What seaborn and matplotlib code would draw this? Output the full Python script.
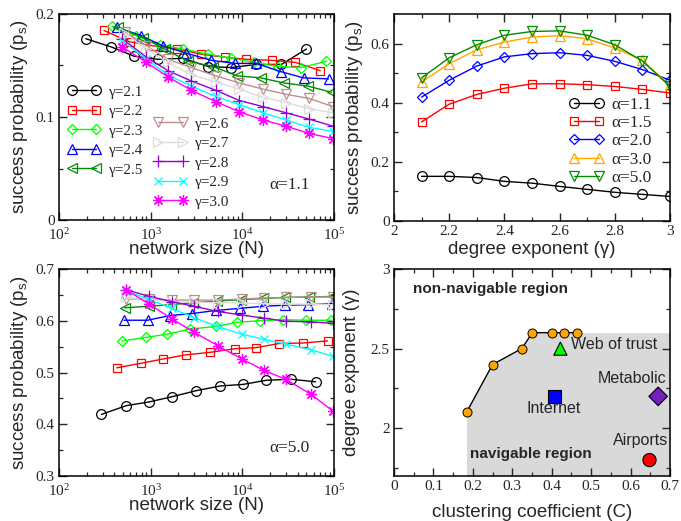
import numpy as np
import pandas as pd
import matplotlib
matplotlib.use("Agg")
import matplotlib.pyplot as plt
import seaborn as sns
from matplotlib.ticker import FixedLocator, FuncFormatter, LogLocator, NullFormatter

# ---------------- data ----------------
gamma_labels = ["γ=2.1", "γ=2.2", "γ=2.3", "γ=2.4", "γ=2.5",
                "γ=2.6", "γ=2.7", "γ=2.8", "γ=2.9", "γ=3.0"]

# top-left: alpha = 1.1
N_a11 = {
    "2.1": [196, 372, 660, 1200, 2240, 4270, 7600, 14100, 26700, 50000],
    "2.2": [309, 589, 1072, 1950, 3550, 6460, 11000, 20900, 38000, 70800],
    "2.3": [382, 692, 1250, 2240, 4240, 7580, 13500, 24400, 43600, 82600],
    "2.4": [429, 790, 1360, 2450, 4580, 8420, 14200, 26300, 46600, 87200],
    "2.5": [440, 830, 1420, 2560, 4800, 8700, 15800, 28700, 52000, 94000],
    "2.6": [520, 900, 1540, 2770, 5110, 9300, 16900, 30300, 53500, 98000],
    "2.7": [510, 900, 1540, 2770, 5110, 9300, 16900, 30300, 53500, 98000],
    "2.8": [490, 900, 1540, 2770, 5110, 9300, 16900, 30300, 53500, 98000],
    "2.9": [490, 900, 1540, 2770, 5110, 9300, 16900, 30300, 53500, 98000],
    "3.0": [490, 900, 1540, 2770, 5110, 9300, 16900, 30300, 53500, 98000],
}
ps_a11 = {
    "2.1": [0.176, 0.168, 0.159, 0.156, 0.157, 0.149, 0.148, 0.151, 0.151, 0.166],
    "2.2": [0.184, 0.173, 0.169, 0.166, 0.161, 0.158, 0.156, 0.155, 0.153, 0.145],
    "2.3": [0.188, 0.179, 0.170, 0.166, 0.161, 0.157, 0.153, 0.149, 0.148, 0.154],
    "2.4": [0.187, 0.179, 0.169, 0.162, 0.155, 0.152, 0.152, 0.144, 0.138, 0.137],
    "2.5": [0.187, 0.177, 0.166, 0.154, 0.149, 0.140, 0.138, 0.133, 0.130, 0.124],
    "2.6": [0.183, 0.169, 0.156, 0.148, 0.140, 0.133, 0.127, 0.122, 0.118, 0.110],
    "2.7": [0.182, 0.166, 0.153, 0.141, 0.134, 0.127, 0.119, 0.114, 0.108, 0.104],
    "2.8": [0.176, 0.158, 0.145, 0.135, 0.126, 0.116, 0.110, 0.104, 0.098, 0.091],
    "2.9": [0.174, 0.156, 0.141, 0.130, 0.120, 0.112, 0.104, 0.097, 0.090, 0.086],
    "3.0": [0.168, 0.153, 0.139, 0.126, 0.115, 0.105, 0.097, 0.091, 0.084, 0.079],
}

# bottom-left: alpha = 5.0
N_a50 = {
    "2.1": [290, 543, 955, 1690, 3160, 5760, 10200, 18300, 34000, 63000],
    "2.2": [427, 794, 1350, 2400, 4470, 8320, 14100, 25100, 45700, 85100],
    "2.3": [490, 895, 1510, 2700, 5200, 8800, 15500, 27600, 49700, 93000],
    "2.4": [512, 925, 1620, 2850, 5200, 9500, 16800, 29000, 52500, 96000],
    "2.5": [520, 950, 1650, 2900, 5300, 9700, 17000, 29300, 54000, 97000],
    "2.6": [535, 970, 1690, 2960, 5370, 9900, 17300, 29600, 56000, 98000],
    "2.7": [535, 970, 1690, 2960, 5370, 9900, 17300, 29600, 56000, 98000],
    "2.8": [535, 970, 1690, 2960, 5370, 9900, 17300, 29600, 56000, 98000],
    "2.9": [535, 970, 1690, 2960, 5370, 9900, 17300, 29600, 56000, 98000],
    "3.0": [535, 970, 1690, 2960, 5370, 9900, 17300, 29600, 56000, 98000],
}
ps_a50 = {
    "2.1": [0.419, 0.436, 0.443, 0.453, 0.465, 0.474, 0.477, 0.485, 0.487, 0.482],
    "2.2": [0.509, 0.518, 0.526, 0.534, 0.539, 0.546, 0.548, 0.556, 0.557, 0.561],
    "2.3": [0.561, 0.568, 0.574, 0.584, 0.589, 0.597, 0.600, 0.602, 0.601, 0.601],
    "2.4": [0.601, 0.601, 0.610, 0.614, 0.620, 0.624, 0.628, 0.630, 0.631, 0.633],
    "2.5": [0.625, 0.628, 0.631, 0.635, 0.638, 0.641, 0.643, 0.645, 0.646, 0.647],
    "2.6": [0.642, 0.642, 0.640, 0.640, 0.640, 0.642, 0.644, 0.645, 0.646, 0.646],
    "2.7": [0.645, 0.641, 0.637, 0.636, 0.635, 0.634, 0.633, 0.632, 0.632, 0.631],
    "2.8": [0.660, 0.647, 0.637, 0.628, 0.618, 0.611, 0.605, 0.599, 0.598, 0.595],
    "2.9": [0.658, 0.641, 0.624, 0.606, 0.589, 0.574, 0.564, 0.555, 0.544, 0.531],
    "3.0": [0.660, 0.632, 0.604, 0.578, 0.552, 0.526, 0.504, 0.487, 0.458, 0.425],
}

# top-right: success probability vs gamma
gamma_vals = [2.1, 2.2, 2.3, 2.4, 2.5, 2.6, 2.7, 2.8, 2.9, 3.0]
alpha_labels = ["α=1.1", "α=1.5", "α=2.0", "α=3.0", "α=5.0"]
ps_alpha = {
    "1.1": [0.151, 0.151, 0.147, 0.134, 0.128, 0.117, 0.107, 0.097, 0.090, 0.083],
    "1.5": [0.335, 0.395, 0.428, 0.449, 0.464, 0.464, 0.461, 0.455, 0.445, 0.433],
    "2.0": [0.419, 0.476, 0.524, 0.555, 0.566, 0.569, 0.560, 0.540, 0.512, 0.476],
    "3.0": [0.470, 0.532, 0.579, 0.605, 0.622, 0.627, 0.616, 0.585, 0.543, 0.459],
    "5.0": [0.484, 0.552, 0.596, 0.628, 0.641, 0.643, 0.628, 0.596, 0.541, 0.455],
}

# bottom-right: navigability boundary and real networks
boundary_C = [0.184, 0.250, 0.324, 0.351, 0.400, 0.431, 0.463]
boundary_gamma = [2.1, 2.4, 2.5, 2.6, 2.6, 2.6, 2.6]
net_names = ["Web of trust", "Internet", "Metabolic", "Airports"]
net_C = [0.422, 0.408, 0.670, 0.648]
net_gamma = [2.5, 2.2, 2.2, 1.8]

# ---------------- style ----------------
sns.set_style("ticks")
plt.rcParams["font.family"] = ["Liberation Serif", "DejaVu Serif"]
plt.rcParams["mathtext.fontset"] = "custom"
plt.rcParams["mathtext.rm"] = "Liberation Serif"
plt.rcParams["xtick.direction"] = "in"
plt.rcParams["ytick.direction"] = "in"
plt.rcParams["xtick.top"] = True
plt.rcParams["ytick.right"] = True

SANS = ["Liberation Sans", "DejaVu Sans"]
SERIF = ["Liberation Serif", "DejaVu Serif"]

g_colors = ["#000000", "#ff0000", "#00ff00", "#0000ff", "#008b00",
            "#bc8f8f", "#dcdcdc", "#9400d3", "#00ffff", "#ff00ff"]
g_markers = ["o", "s", "D", "^", "<", "v", ">", "+", "x", (8, 2, 0)]
g_msize = [7, 6, 5, 7, 7, 7, 7, 8, 6, 8]
a_colors = ["#000000", "#ff0000", "#0000ff", "#ffa500", "#008b00"]
a_markers = ["o", "s", "D", "^", "v"]
a_msize = [7, 6, 5, 7, 7]

fig = plt.figure(figsize=(6.81, 5.21), dpi=100)
W, H = 681, 521


def add_ax(l, t, r, b):
    return fig.add_axes([l / W, 1 - b / H, (r - l) / W, (b - t) / H])


ax_tl = add_ax(59, 14, 334, 220)
ax_tr = add_ax(394, 14, 670, 221)
ax_bl = add_ax(59, 269, 334, 476)
ax_br = add_ax(394, 269, 670, 476)


def style_axes(ax, xpad=3):
    for s in ax.spines.values():
        s.set_linewidth(1.1)
        s.set_color("black")
    ax.tick_params(which="major", length=6, width=1.0, labelsize=11,
                   top=True, right=True, direction="in", pad=3)
    ax.tick_params(axis="x", which="major", pad=xpad)
    ax.tick_params(which="minor", length=3, width=0.9,
                   top=True, right=True, direction="in")
    for lab in ax.get_xticklabels() + ax.get_yticklabels():
        lab.set_family(SERIF)


def draw_series(ax, x, y, color, marker, ms):
    sns.lineplot(x=x, y=y, ax=ax, color=color, marker=marker, markersize=ms,
                 markerfacecolor="none", markeredgecolor=color,
                 markeredgewidth=0.9, linewidth=1.0, legend=False,
                 errorbar=None, sort=False)
    return ax.lines[-1]


fmt_g = FuncFormatter(lambda v, p: "%g" % v)

# ---- top-left and bottom-left ----
for ax, Nd, Pd, ylim, yt, alabel, ay in [
        (ax_tl, N_a11, ps_a11, (0, 0.2), [0, 0.1, 0.2], "α=1.1", 0.17),
        (ax_bl, N_a50, ps_a50, (0.3, 0.7), [0.3, 0.4, 0.5, 0.6, 0.7], "α=5.0", 0.135)]:
    handles = []
    for i, key in enumerate(Nd):
        h = draw_series(ax, Nd[key], Pd[key], g_colors[i], g_markers[i], g_msize[i])
        h.set_label(gamma_labels[i])
        handles.append(h)
    ax.set_xscale("log")
    ax.set_xlim(1e2, 1e5)
    ax.set_ylim(*ylim)
    ax.yaxis.set_major_locator(FixedLocator(yt))
    ax.yaxis.set_minor_locator(FixedLocator(list(np.array(yt[:-1]) + 0.05)))
    ax.yaxis.set_major_formatter(fmt_g)
    ax.xaxis.set_major_locator(LogLocator(base=10, numticks=10))
    ax.xaxis.set_minor_locator(LogLocator(base=10, subs=np.arange(2, 10), numticks=10))
    ax.xaxis.set_minor_formatter(NullFormatter())
    ax.set_xlabel("network size (N)", family=SANS, fontsize=13.5, labelpad=-1)
    ax.set_ylabel("success probability (p$_\\mathregular{s}$)", family=SANS,
                  fontsize=13.5, labelpad=4)
    ax.text(0.765, ay, alabel, transform=ax.transAxes, family=SERIF,
            fontsize=12.5, va="center", ha="left")
    style_axes(ax, xpad=5)
    if ax is ax_tl:
        leg1 = ax.legend(handles=handles[:5], loc="upper left",
                         bbox_to_anchor=(0.03, 0.655), frameon=False, numpoints=2,
                         prop={"family": SERIF, "size": 11}, handlelength=2.2,
                         handletextpad=0.5, labelspacing=0.38, borderpad=0,
                         borderaxespad=0)
        ax.add_artist(leg1)
        ax.legend(handles=handles[5:], loc="upper left",
                  bbox_to_anchor=(0.345, 0.50), frameon=False, numpoints=2,
                  prop={"family": SERIF, "size": 11}, handlelength=2.2,
                  handletextpad=0.5, labelspacing=0.38, borderpad=0,
                  borderaxespad=0)

# ---- top-right ----
handles = []
for i, key in enumerate(ps_alpha):
    h = draw_series(ax_tr, gamma_vals, ps_alpha[key], a_colors[i], a_markers[i], a_msize[i])
    h.set_label(alpha_labels[i])
    handles.append(h)
ax_tr.set_xlim(2, 3)
ax_tr.set_ylim(0, 0.7)
ax_tr.xaxis.set_major_locator(FixedLocator([2, 2.2, 2.4, 2.6, 2.8, 3.0]))
ax_tr.xaxis.set_minor_locator(FixedLocator([2.1, 2.3, 2.5, 2.7, 2.9]))
ax_tr.yaxis.set_major_locator(FixedLocator([0, 0.2, 0.4, 0.6]))
ax_tr.yaxis.set_minor_locator(FixedLocator([0.1, 0.3, 0.5]))
ax_tr.xaxis.set_major_formatter(fmt_g)
ax_tr.yaxis.set_major_formatter(fmt_g)
ax_tr.set_xlabel("degree exponent (γ)", family=SANS, fontsize=13.5, labelpad=2)
ax_tr.set_ylabel("success probability (p$_\\mathregular{s}$)", family=SANS,
                 fontsize=13.5, labelpad=4)
style_axes(ax_tr)
ax_tr.legend(handles=handles, loc="upper left", bbox_to_anchor=(0.635, 0.60),
             frameon=False, numpoints=2, prop={"family": SERIF, "size": 12.5},
             handlelength=2.0, handletextpad=0.4, labelspacing=0.12,
             borderpad=0, borderaxespad=0)

# ---- bottom-right ----
ax_br.fill_between(boundary_C[:4] + [0.7], [1.7] * 5, boundary_gamma[:4] + [2.6],
                   color="#d9d9d9", linewidth=0, zorder=0)
sns.lineplot(x=boundary_C, y=boundary_gamma, ax=ax_br, color="black",
             linewidth=1.0, marker="o", markersize=6.5, markerfacecolor="#ffa500",
             markeredgecolor="black", markeredgewidth=0.7, legend=False,
             errorbar=None, sort=False)
net_df = pd.DataFrame({"C": net_C, "gamma": net_gamma, "name": net_names})
sns.scatterplot(data=net_df, x="C", y="gamma", hue="name", style="name",
                palette={"Web of trust": "#00ff00", "Internet": "#0000ff",
                         "Metabolic": "#7221bc", "Airports": "#ff0000"},
                markers={"Web of trust": "^", "Internet": "s",
                         "Metabolic": "D", "Airports": "o"},
                s=90, edgecolor="black", linewidth=0.8, legend=False,
                ax=ax_br, zorder=5)
ax_br.set_xlim(0, 0.7)
ax_br.set_ylim(1.7, 3.0)
ax_br.xaxis.set_major_locator(FixedLocator([0, 0.1, 0.2, 0.3, 0.4, 0.5, 0.6, 0.7]))
ax_br.xaxis.set_minor_locator(FixedLocator([0.05, 0.15, 0.25, 0.35, 0.45, 0.55, 0.65]))
ax_br.yaxis.set_major_locator(FixedLocator([2, 2.5, 3]))
ax_br.yaxis.set_minor_locator(FixedLocator([1.75, 2.25, 2.75]))
ax_br.xaxis.set_major_formatter(fmt_g)
ax_br.yaxis.set_major_formatter(fmt_g)
ax_br.set_xlabel("clustering coefficient (C)", family=SANS, fontsize=13.5, labelpad=8)
ax_br.set_ylabel("degree exponent (γ)", family=SANS, fontsize=13.5, labelpad=8)
style_axes(ax_br)
ax_br.text(0.047, 2.875, "non-navigable region", family=SANS, fontsize=11,
           fontweight="bold", va="center", ha="left")
ax_br.text(0.192, 1.84, "navigable region", family=SANS, fontsize=11,
           fontweight="bold", va="center", ha="left")
ax_br.text(0.450, 2.525, "Web of trust", family=SANS, fontsize=11.5, va="center", ha="left")
ax_br.text(0.404, 2.127, "Internet", family=SANS, fontsize=11.5, va="center", ha="center")
ax_br.text(0.692, 2.31, "Metabolic", family=SANS, fontsize=11.5, va="center", ha="right")
ax_br.text(0.625, 1.92, "Airports", family=SANS, fontsize=11.5, va="center", ha="center")

fig.savefig("out.png", dpi=100)
